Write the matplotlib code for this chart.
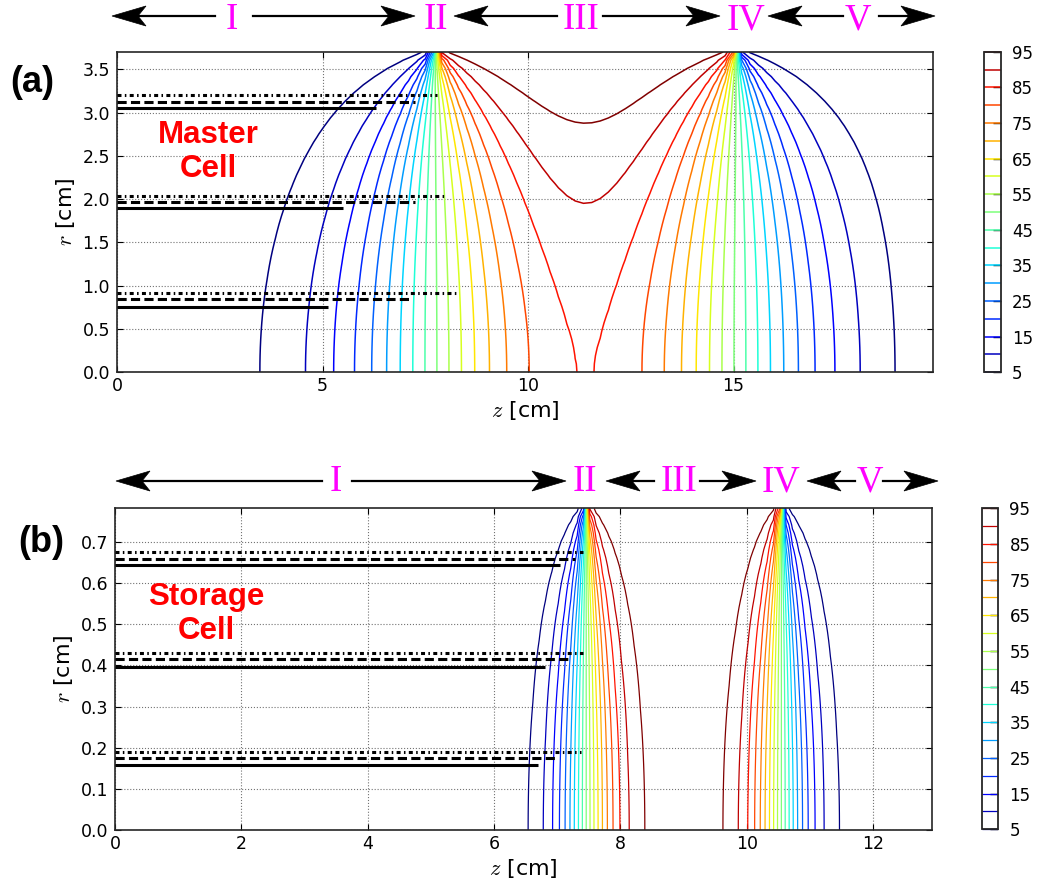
import matplotlib
matplotlib.use('Agg')
import matplotlib.pyplot as plt
from matplotlib.lines import Line2D
from matplotlib.patches import Polygon
import numpy as np

plt.rcParams['mathtext.fontset'] = 'cm'
plt.rcParams['font.family'] = 'DejaVu Sans'

W, H = 1039, 888          # output size in pixels
LEVELS = np.arange(5, 100, 5)

# panel (a) master cell: wall radius, plot top, z range, wall "on" segment, end cap
A_RWALL, A_RTOP, A_ZMAX = 3.75, 3.70, 19.86
A_Z_ON, A_Z_OFF, A_ZEND = 7.74, 15.06, 20.1
# panel (b) storage cell
B_RWALL, B_RTOP, B_ZMAX = 0.80, 0.782, 12.93
B_Z_ON, B_Z_OFF, B_ZEND = 7.46, 10.55, 12.93

# black reference lines: radius and end position (z) of each line
A_SOLID_R, A_SOLID_END = [3.05, 1.90, 0.755], [6.30, 5.49, 5.13]
A_DASH_R, A_DASH_END = [3.125, 1.97, 0.84], [7.25, 7.25, 7.17]
A_DOT_R, A_DOT_END = [3.20, 2.04, 0.91], [7.79, 8.02, 8.27]
B_SOLID_R, B_SOLID_END = [0.644, 0.397, 0.159], [7.04, 6.80, 6.69]
B_DASH_R, B_DASH_END = [0.659, 0.416, 0.174], [7.28, 7.20, 6.99]
B_DOT_R, B_DOT_END = [0.676, 0.431, 0.190], [7.41, 7.41, 7.38]

# region labels above each panel (pixel layout)
REGIONS = ['I', 'II', 'III', 'IV', 'V']
A_LABEL_X, A_LABEL_Y = [232, 436, 581, 746, 858], 29
A_ARROWS, A_ARROW_Y = [(215, 112), (253, 415), (557, 454), (603, 720), (843, 768), (879, 935)], 16
B_LABEL_X, B_LABEL_Y = [336, 585, 679, 781, 870], 491
B_ARROWS, B_ARROW_Y = [(322, 116), (352, 566), (654, 606), (700, 756), (855, 807), (883, 938)], 481


def bessel(nu, x):
    x = np.atleast_1d(np.asarray(x, dtype=float))
    out = np.empty_like(x)
    small = x < 25
    if small.any():
        t = np.linspace(0, np.pi, 801)
        f = np.cos(nu * t[None, :] - x[small][:, None] * np.sin(t)[None, :])
        out[small] = np.trapezoid(f, t, axis=1) / np.pi
    if (~small).any():
        xl = x[~small]
        mu = 4.0 * nu ** 2
        w = xl - nu * np.pi / 2 - np.pi / 4
        p = 1 - (mu - 1) * (mu - 9) / (2 * (8 * xl) ** 2)
        q = (mu - 1) / (8 * xl)
        out[~small] = np.sqrt(2 / (np.pi * xl)) * (p * np.cos(w) - q * np.sin(w))
    return out


# zeros of J0
nn = np.arange(1, 601)
beta = (nn - 0.25) * np.pi
JN = beta + 1 / (8 * beta) - 124 / (3 * (8 * beta) ** 3)
for _ in range(3):
    JN = JN + bessel(0, JN) / bessel(1, JN)
J1N = bessel(1, JN)


def wall_field(z, r, rwall, z_on, z_off, z_end):
    # axisymmetric Laplace field, 100 on the wall between z_on and z_off, 0 elsewhere
    segs = []
    for m in (-1, 0, 1):
        segs.append((z_on + 2 * m * z_end, z_off + 2 * m * z_end, 1.0))
        segs.append((-z_off + 2 * m * z_end, -z_on + 2 * m * z_end, -1.0))
    u = np.tile(((z > z_on) & (z < z_off)).astype(float), (len(r), 1))
    for j, j1 in zip(JN, J1N):
        k = j / rwall
        e = np.zeros_like(z)
        for a, b, s in segs:
            e += s * (np.sign(b - z) * np.exp(-k * np.abs(b - z))
                      - np.sign(a - z) * np.exp(-k * np.abs(a - z)))
        u -= np.outer(bessel(0, j * r / rwall) / (j * j1), e)
    return 100 * u


def fx(x):
    return x / W


def fy(y):
    return 1 - y / H


fig = plt.figure(figsize=(W / 100, H / 100), dpi=100)


def arrow(x_tail, x_tip, y):
    d = np.sign(x_tip - x_tail)
    hl, hw, notch = 34, 10, 8
    fig.add_artist(Line2D([fx(x_tail), fx(x_tip - d * (hl - notch))], [fy(y), fy(y)],
                          lw=1.6, color='k', transform=fig.transFigure))
    head = [(x_tip, y), (x_tip - d * hl, y - hw), (x_tip - d * (hl - notch), y),
            (x_tip - d * hl, y + hw)]
    fig.add_artist(Polygon([(fx(a), fy(b)) for a, b in head], closed=True,
                           facecolor='k', edgecolor='k', lw=0.5, transform=fig.transFigure))


def panel(ax, cax, z, r, u, zmax, rtop, xticks, yticks, lw,
          solid, dash, dot):
    Z, R = np.meshgrid(z, r)
    cs = ax.contour(Z, R, u, levels=LEVELS, cmap='jet', linewidths=lw)
    for rr, ee in zip(*solid):
        ax.plot([0, ee], [rr, rr], color='k', lw=2.2, solid_capstyle='butt', zorder=5)
    for rr, ee in zip(*dash):
        ax.plot([0, ee], [rr, rr], color='k', lw=2.2, ls=(0, (3.0, 1.4)), zorder=5)
    for rr, ee in zip(*dot):
        ax.plot([0, ee], [rr, rr], color='k', lw=2.2, ls=(0, (1.3, 1.1, 0.5, 1.1)), zorder=5)
    ax.set_xlim(0, zmax)
    ax.set_ylim(0, rtop)
    ax.set_xticks(xticks)
    ax.set_yticks(yticks)
    ax.grid(True, ls=':', color='0.45', lw=0.8)
    ax.tick_params(direction='in', top=True, right=True, length=4, width=0.8, labelsize=12.5)
    ax.tick_params(axis='y', pad=5)
    for s in ax.spines.values():
        s.set_linewidth(1.2)
        s.set_color('0.15')
    ax.set_xlabel(r'$z$ [cm]', fontsize=16, labelpad=3)
    ax.set_ylabel(r'$r$ [cm]', fontsize=16, labelpad=4)
    cb = fig.colorbar(cs, cax=cax)
    cb.outline.set_linewidth(1.3)
    cb.outline.set_edgecolor('0.15')
    cax.tick_params(direction='in', length=6, width=1, labelsize=12, pad=8)
    return cs


# (a)
za = np.linspace(0, A_ZMAX, 99)
ra = np.linspace(0, A_RTOP, 40)
ua = wall_field(za, ra, A_RWALL, A_Z_ON, A_Z_OFF, A_ZEND)
ax_a = fig.add_axes([fx(117), fy(372), (933.3 - 117) / W, 320 / H])
cax_a = fig.add_axes([fx(984.3), fy(372.3), 16.4 / W, 320.6 / H])
panel(ax_a, cax_a, za, ra, ua, A_ZMAX, A_RTOP, [0, 5, 10, 15], np.arange(0, 3.51, 0.5), 1.1,
      (A_SOLID_R, A_SOLID_END), (A_DASH_R, A_DASH_END), (A_DOT_R, A_DOT_END))

# (b)
zb = np.linspace(0, B_ZMAX, 130)
rb = np.linspace(0, B_RTOP, 40)
ub = wall_field(zb, rb, B_RWALL, B_Z_ON, B_Z_OFF, B_ZEND)
ax_b = fig.add_axes([fx(115), fy(830), (931.7 - 115) / W, (830 - 508.3) / H])
cax_b = fig.add_axes([fx(981.7), fy(829.3), 16.6 / W, 321 / H])
panel(ax_b, cax_b, zb, rb, ub, B_ZMAX, B_RTOP, np.arange(0, 13, 2), np.arange(0, 0.71, 0.1), 0.9,
      (B_SOLID_R, B_SOLID_END), (B_DASH_R, B_DASH_END), (B_DOT_R, B_DOT_END))

# region labels and arrows
for lab, x in zip(REGIONS, A_LABEL_X):
    fig.text(fx(x), fy(A_LABEL_Y), lab, color='#ff00ff', fontsize=26.5,
             family='Liberation Serif', ha='center', va='baseline')
for t0, t1 in A_ARROWS:
    arrow(t0, t1, A_ARROW_Y)
for lab, x in zip(REGIONS, B_LABEL_X):
    fig.text(fx(x), fy(B_LABEL_Y), lab, color='#ff00ff', fontsize=26.5,
             family='Liberation Serif', ha='center', va='baseline')
for t0, t1 in B_ARROWS:
    arrow(t0, t1, B_ARROW_Y)

fig.text(fx(32), fy(82), '(a)', fontsize=26, fontweight='bold', family='Liberation Sans',
         ha='center', va='center')
fig.text(fx(41), fy(542), '(b)', fontsize=26, fontweight='bold', family='Liberation Sans',
         ha='center', va='center')
fig.text(fx(208), fy(152), 'Master\nCell', fontsize=22.5, fontweight='bold', color='red',
         family='Liberation Sans', ha='center', va='center', linespacing=1.15)
fig.text(fx(206), fy(614), 'Storage\nCell', fontsize=22.5, fontweight='bold', color='red',
         family='Liberation Sans', ha='center', va='center', linespacing=1.15)

fig.savefig('out.png', dpi=100)
plt.close(fig)
